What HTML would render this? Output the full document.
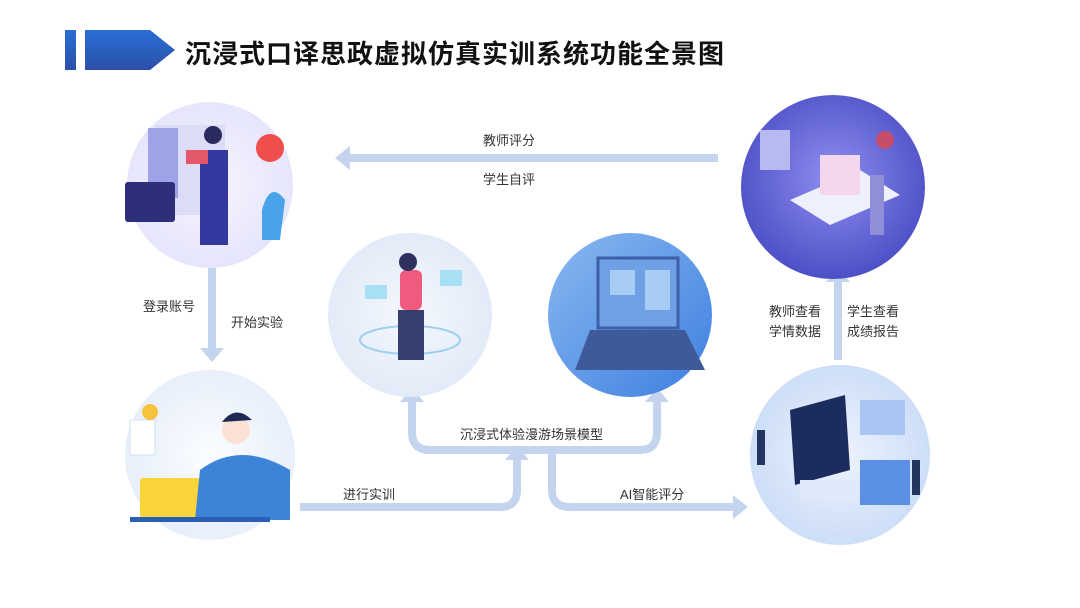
<!DOCTYPE html>
<html><head><meta charset="utf-8"><style>
html,body{margin:0;padding:0;background:#fff;}
body{width:1080px;height:608px;position:relative;overflow:hidden;font-family:"Liberation Sans","Noto Sans CJK SC",sans-serif;}
.t{position:absolute;font-size:13px;color:#333;white-space:nowrap;}
</style></head><body>
<svg width="1080" height="608" style="position:absolute;left:0;top:0">
<defs>
<linearGradient id="hb" x1="0" y1="0" x2="0" y2="1"><stop offset="0" stop-color="#2a6fd6"/><stop offset="1" stop-color="#2b4fa8"/></linearGradient>
<radialGradient id="c1" cx="0.5" cy="0.5" r="0.5"><stop offset="0" stop-color="#f6f5ff"/><stop offset="1" stop-color="#e6e5fb"/></radialGradient>
<radialGradient id="c2" cx="0.5" cy="0.45" r="0.55"><stop offset="0" stop-color="#8e8ff0"/><stop offset="1" stop-color="#4d4fc6"/></radialGradient>
<radialGradient id="c3" cx="0.5" cy="0.5" r="0.5"><stop offset="0" stop-color="#f5f8fd"/><stop offset="1" stop-color="#e2ebf8"/></radialGradient>
<linearGradient id="c4" x1="0" y1="0" x2="1" y2="1"><stop offset="0" stop-color="#8ab8f0"/><stop offset="1" stop-color="#3d7fe0"/></linearGradient>
<radialGradient id="c5" cx="0.5" cy="0.5" r="0.5"><stop offset="0" stop-color="#fbfdff"/><stop offset="1" stop-color="#e8effb"/></radialGradient>
<radialGradient id="c6" cx="0.5" cy="0.5" r="0.5"><stop offset="0" stop-color="#eef3fd"/><stop offset="1" stop-color="#cddef7"/></radialGradient>
</defs>
<rect x="65" y="30" width="11" height="40" fill="url(#hb)"/>
<polygon points="85,30 150,30 175,50 150,70 85,70" fill="url(#hb)"/>
<g fill="none" stroke="#c4d4ef" stroke-width="8">
<path d="M300 507 H500 Q517 507 517 490 V458"/>
<path d="M412 400 V432 Q412 450 430 450 H640 Q657 450 657 432 V400"/>
<path d="M552 453 V490 Q552 507 570 507 H735"/>
<path d="M718 158 H348"/>
<path d="M212 268 V350"/>
<path d="M838 360 V280"/>
</g>
<g fill="#c4d4ef">
<polygon points="505,460 529,460 517,445"/>
<polygon points="400,402 424,402 412,388"/>
<polygon points="645,402 669,402 657,388"/>
<polygon points="733,495 733,519 748,507"/>
<polygon points="350,146 350,170 335,158"/>
<polygon points="200,348 224,348 212,362"/>
<polygon points="826,282 850,282 838,267"/>
</g>
<circle cx="210" cy="185" r="83" fill="url(#c1)"/>
<rect x="155" y="125" width="70" height="90" fill="#dcdcf6"/>
<rect x="148" y="128" width="30" height="70" fill="#9ea3e8"/>
<rect x="125" y="182" width="50" height="40" rx="3" fill="#2e2f7a"/>
<rect x="200" y="150" width="28" height="95" fill="#3438a0"/>
<circle cx="213" cy="135" r="9" fill="#2a2a60"/>
<rect x="186" y="150" width="22" height="14" fill="#e4576b"/>
<circle cx="270" cy="148" r="14" fill="#f04d4d"/>
<path d="M262 210 Q270 180 285 200 L280 240 H262 Z" fill="#4aa3e8"/>

<circle cx="833" cy="187" r="92" fill="url(#c2)"/>
<polygon points="790,200 860,170 900,195 830,225" fill="#eef0fb"/>
<rect x="820" y="155" width="40" height="40" fill="#f4d6ee"/>
<rect x="870" y="175" width="14" height="60" fill="#8f8fd8"/>
<circle cx="885" cy="140" r="9" fill="#c54e6a"/>
<rect x="760" y="130" width="30" height="40" fill="#b7b9f1"/>

<circle cx="410" cy="315" r="82" fill="url(#c3)"/>
<ellipse cx="410" cy="340" rx="50" ry="14" fill="none" stroke="#9ed0f0" stroke-width="2"/>
<rect x="400" y="270" width="22" height="40" rx="6" fill="#f05a7e"/>
<rect x="398" y="310" width="26" height="50" fill="#35406e"/>
<circle cx="408" cy="262" r="9" fill="#30305e"/>
<rect x="440" y="270" width="22" height="16" fill="#a8dff5"/>
<rect x="365" y="285" width="22" height="14" fill="#a8dff5"/>

<circle cx="630" cy="315" r="82" fill="url(#c4)"/>
<rect x="598" y="258" width="80" height="70" fill="#6f9fe5" stroke="#3c5fa5" stroke-width="3"/>
<polygon points="590,330 685,330 705,370 575,370" fill="#3f5a9a"/>
<rect x="610" y="270" width="25" height="25" fill="#a8cdf5"/>
<rect x="645" y="270" width="25" height="40" fill="#a8cdf5"/>

<circle cx="210" cy="455" r="85" fill="url(#c5)"/>
<rect x="140" y="478" width="60" height="40" rx="3" fill="#f9d43b"/>
<path d="M200 470 Q240 440 290 470 L290 520 H195 Z" fill="#3c84d8"/>
<circle cx="236" cy="430" r="14" fill="#fbe1d3"/>
<path d="M222 422 Q236 404 252 420 Z" fill="#1e2a55"/>
<rect x="130" y="420" width="25" height="35" fill="#fff" stroke="#cfe0f4"/>
<circle cx="150" cy="412" r="8" fill="#f6c33a"/>
<rect x="130" y="517" width="140" height="5" fill="#2b5fb5"/>

<circle cx="840" cy="455" r="90" fill="url(#c6)"/>
<polygon points="790,410 845,395 850,470 795,485" fill="#1d2c5e"/>
<rect x="860" y="400" width="45" height="35" fill="#a9c5f3"/>
<rect x="860" y="460" width="50" height="45" fill="#5c8fe6"/>
<rect x="800" y="480" width="60" height="20" fill="#e0e9fb"/>
<rect x="757" y="430" width="8" height="35" fill="#24355f"/>
<rect x="912" y="460" width="8" height="35" fill="#24355f"/>
</svg>
<div style="position:absolute;left:185px;top:34px;font-size:26px;font-weight:bold;color:#111;white-space:nowrap;letter-spacing:1px;">沉浸式口译思政虚拟仿真实训系统功能全景图</div>
<div class="t" style="left:483px;top:130px;">教师评分</div>
<div class="t" style="left:483px;top:169px;">学生自评</div>
<div class="t" style="left:143px;top:296px;">登录账号</div>
<div class="t" style="left:231px;top:312px;">开始实验</div>
<div class="t" style="left:769px;top:302px;line-height:20px;">教师查看<br>学情数据</div>
<div class="t" style="left:847px;top:302px;line-height:20px;">学生查看<br>成绩报告</div>
<div class="t" style="left:460px;top:424px;">沉浸式体验漫游场景模型</div>
<div class="t" style="left:343px;top:484px;">进行实训</div>
<div class="t" style="left:620px;top:484px;">AI智能评分</div>
</body></html>
